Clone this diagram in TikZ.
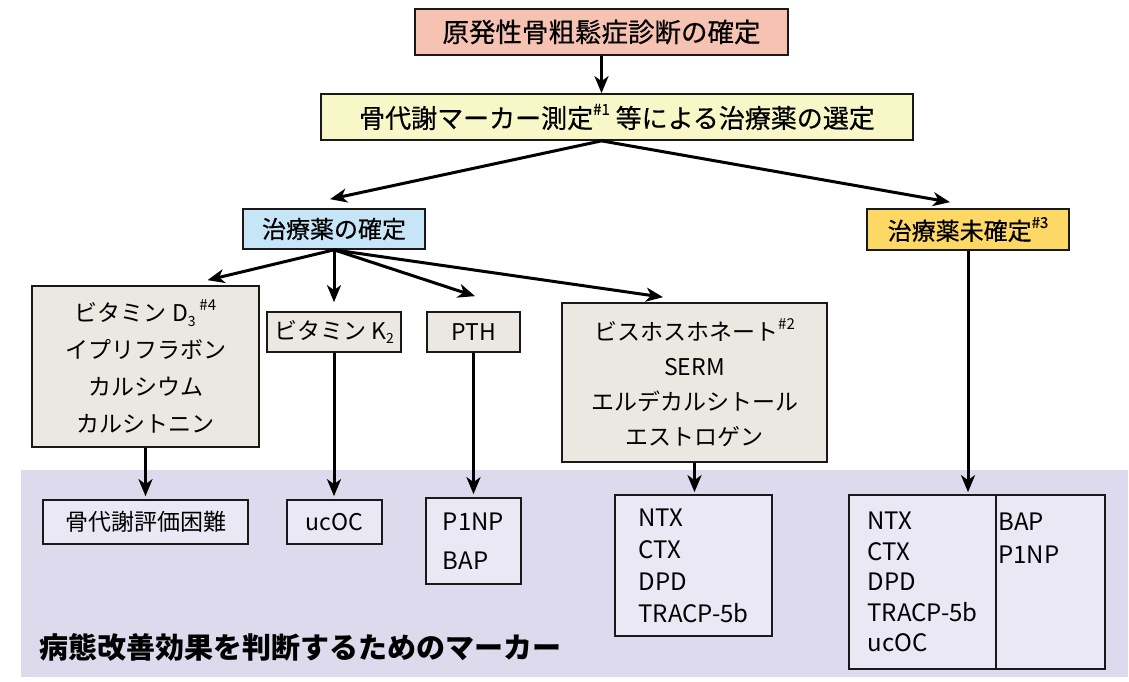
\documentclass[tikz,border=0pt]{standalone}
\usepackage{fontspec}
\setmainfont{Noto Sans CJK JP}
\newfontfamily\medfont[FakeBold=0.5]{Noto Sans CJK JP}
\usetikzlibrary{arrows.meta,calc}
\definecolor{csalmon}{HTML}{F6C2B2}
\definecolor{cyellow}{HTML}{F8F7C8}
\definecolor{cblue}{HTML}{C6E6F8}
\definecolor{corange}{HTML}{FDD865}
\definecolor{cbeige}{HTML}{EBE8E1}
\definecolor{cpanel}{HTML}{DCDAEC}
\definecolor{cinner}{HTML}{EAE8F4}
\newcommand\supx[1]{\raisebox{0.5em}{\fontsize{15}{15}\selectfont #1}}
\newcommand\subx[1]{\raisebox{-0.2em}{\fontsize{14}{14}\selectfont #1}}
\begin{document}
\begin{tikzpicture}[x=1pt,y=-1pt,
  box/.style={draw=black!90, line width=1.7pt, inner sep=0pt, align=center},
  arr/.style={line width=3pt, -{Stealth[length=17pt,width=14pt,inset=5pt]}}]
\useasboundingbox (0,0) rectangle (1129,681);
% panel
\fill[cpanel] (21,470) rectangle (1128,677);
% top boxes
\node[box, fill=csalmon, minimum width=373pt, minimum height=46pt, font=\medfont\fontsize{26.5}{30}\selectfont] (top) at (601.5,32) {原発性骨粗鬆症診断の確定};
\node[box, fill=cyellow, minimum width=592pt, minimum height=46pt, font=\medfont\fontsize{26}{30}\selectfont] (sel) at (617,117) {骨代謝マーカー測定\supx{\#1} 等による治療薬の選定};
\node[box, fill=cblue, minimum width=182pt, minimum height=40pt, font=\medfont\fontsize{24}{28}\selectfont] (kak) at (334,229) {治療薬の確定};
\node[box, fill=corange, minimum width=202pt, minimum height=41pt, font=\medfont\fontsize{24}{28}\selectfont] (mik) at (968,229.5) {治療薬未確定\supx{\#3}};
% drug boxes
\node[box, fill=cbeige, minimum width=227pt, minimum height=161pt, font=\fontsize{23}{37}\selectfont] (d3) at (145.5,366.5) {ビタミン D\subx{3}\,\supx{\#4}\\イプリフラボン\\カルシウム\\カルシトニン};
\node[box, fill=cbeige, minimum width=134pt, minimum height=40pt, font=\fontsize{23}{28}\selectfont] (k2) at (334,332) {ビタミン K\subx{2}};
\node[box, fill=cbeige, minimum width=93pt, minimum height=40pt, font=\fontsize{23}{28}\selectfont] (pth) at (473.5,332) {PTH};
\node[box, fill=cbeige, minimum width=265pt, minimum height=159pt, font=\fontsize{23}{35}\selectfont] (bp) at (694.5,382.5) {ビスホスホネート\supx{\#2}\\SERM\\エルデカルシトール\\エストロゲン};
% marker boxes
\node[box, fill=cinner, minimum width=205pt, minimum height=44pt, font=\fontsize{23}{28}\selectfont] (hyo) at (145.5,522) {骨代謝評価困難};
\node[box, fill=cinner, minimum width=95pt, minimum height=44pt, font=\fontsize{23}{28}\selectfont] (uc) at (334.5,522) {ucOC};
\node[box, fill=cinner, minimum width=95pt, minimum height=86pt, align=left, font=\fontsize{24}{39}\selectfont] (p1) at (473.5,541) {P1NP\\BAP};
\node[box, fill=cinner, minimum width=157pt, minimum height=141pt, align=left, font=\fontsize{24}{32}\selectfont] (ntx) at (693.5,565.5) {NTX\\CTX\\DPD\\TRACP-5b};
\node[box, fill=cinner, minimum width=147pt, minimum height=174pt, align=left, font=\fontsize{24}{30.5}\selectfont] (rl) at (922.5,582) {NTX\\CTX\\DPD\\TRACP-5b\\ucOC};
\node[box, fill=cinner, minimum width=109pt, minimum height=174pt] (rr) at (1050.5,582) {};
\node[align=left, inner sep=0pt, font=\fontsize{24}{33}\selectfont] (rrt) at (1029,538.5) {BAP\\P1NP};
% label
\node[anchor=west, inner sep=0pt, font=\bfseries\fontsize{29}{32}\selectfont] (lbl) at (39,647) {病態改善効果を判断するためのマーカー};
% arrows
\coordinate (selout) at (top.south |- sel.south);
\draw[arr] (top.south) -- (top.south |- sel.north);
\draw[arr] (selout) -- ($(kak.north)+(-4,-9)$);
\draw[arr] (selout) -- ($(mik.north)+(-18,-6)$);
\draw[arr] (kak.south) -- ($(d3.north)+(62,-5)$);
\draw[arr] (kak.south) -- ($(k2.north)+(0,-9)$);
\draw[arr] (kak.south) -- ($(pth.north)+(1.5,-15)$);
\draw[arr] (kak.south) -- ($(bp.north)+(-31.5,-5)$);
\draw[arr, shorten >=3pt] (d3.south) -- (d3.south |- hyo.north);
\draw[arr, shorten >=3pt] (k2.south) -- (k2.south |- uc.north);
\draw[arr, shorten >=3pt] (pth.south) -- (pth.south |- p1.north);
\draw[arr, shorten >=2pt] (bp.south) -- (bp.south |- ntx.north);
\draw[arr, shorten >=2pt] (mik.south) -- (mik.south |- rl.north);
\end{tikzpicture}
\end{document}
